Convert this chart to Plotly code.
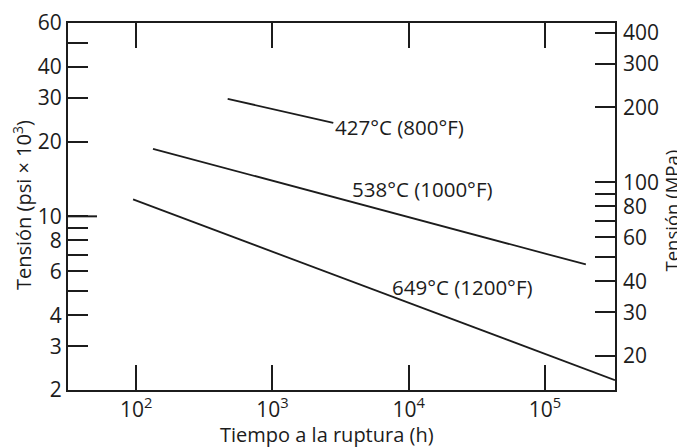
import numpy as np
import plotly.graph_objects as go

# Data
t427 = [470, 2800]
s427 = [29.7, 23.8]
t538 = [133, 2.0e5]
s538 = [18.7, 6.4]
t649 = [95, 3.27e5]
s649 = [11.7, 2.19]

labels = ["427°C (800°F)", "538°C (1000°F)", "649°C (1200°F)"]
label_t = [2800, 3715, 7310]
label_s = [22.9, 12.9, 5.2]

x_tickvals = [1e2, 1e3, 1e4, 1e5]
x_ticktext = ["10<sup>2</sup>", "10<sup>3</sup>", "10<sup>4</sup>", "10<sup>5</sup>"]
y_tickvals = [2, 3, 4, 5, 6, 7, 8, 9, 10, 20, 30, 40, 50, 60]
y_ticktext = ["2", "3", "4", "", "6", "", "8", "", "10", "20", "30", "40", "", "60"]
y2_tickvals = [20, 30, 40, 50, 60, 70, 80, 90, 100, 200, 300, 400]
y2_ticktext = ["20", "30", "40", "", "60", "", "80", "", "100", "200", "300", "400"]

INK = "#1c1c1c"
FONT = "Open Sans"

fig = go.Figure()
line_style = dict(color=INK, width=1.8)
for t, s in [(t427, s427), (t538, s538), (t649, s649)]:
    fig.add_trace(go.Scatter(x=t, y=s, mode="lines", line=line_style,
                             showlegend=False, hoverinfo="skip"))
# invisible trace to activate the right axis
fig.add_trace(go.Scatter(x=[1e3], y=[100], yaxis="y2", mode="markers",
                         marker=dict(opacity=0), showlegend=False, hoverinfo="skip"))

for txt, tx, sy in zip(labels, label_t, label_s):
    fig.add_annotation(x=np.log10(tx), y=np.log10(sy), text=txt, showarrow=False,
                       xanchor="left", yanchor="middle",
                       font=dict(family=FONT, size=20.5, color=INK))

# axis titles
fig.add_annotation(xref="paper", yref="paper", x=-0.084, y=0.504,
                   xanchor="center", yanchor="middle",
                   text="Tensión (psi × 10<sup>3</sup>)", textangle=-90, showarrow=False,
                   font=dict(family=FONT, size=20, color=INK))
fig.add_annotation(xref="paper", yref="paper", x=1.103, y=0.49,
                   xanchor="center", yanchor="middle",
                   text="Tensión (MPa)", textangle=-90, showarrow=False,
                   font=dict(family=FONT, size=18.5, color=INK))
fig.add_annotation(xref="paper", yref="paper", x=0.4735, y=-0.12,
                   xanchor="center", yanchor="middle",
                   text="Tiempo a la ruptura (h)", showarrow=False,
                   font=dict(family=FONT, size=20, color=INK))

# longer tick at 10
fig.add_shape(type="line", xref="x domain", yref="y", x0=0, x1=29/547,
              y0=10, y1=10, line=dict(color=INK, width=2))

# page body adds an 8px offset; figure size trimmed so the plot sits where the reference has it
fig.update_layout(
    width=677, height=439,
    margin=dict(l=60, r=70, t=15, b=57),
    paper_bgcolor="white", plot_bgcolor="white",
    font=dict(family=FONT, size=21, color=INK),
    xaxis=dict(type="log", range=[1.5, 5.515], tickvals=x_tickvals, ticktext=x_ticktext,
               ticks="inside", ticklen=25, tickwidth=2, tickcolor=INK,
               showline=True, linecolor=INK, linewidth=2, mirror="ticks",
               showgrid=False, zeroline=False, automargin=False),
    yaxis=dict(type="log", range=[np.log10(2), np.log10(60)], tickvals=y_tickvals,
               ticktext=y_ticktext, ticks="inside", ticklen=20, tickwidth=2, tickcolor=INK,
               showline=True, linecolor=INK, linewidth=2, mirror=True,
               showgrid=False, zeroline=False, automargin=False),
    yaxis2=dict(type="log", overlaying="y", side="right",
                range=[np.log10(14.6), np.log10(437)], tickvals=y2_tickvals,
                ticktext=y2_ticktext, ticks="inside", ticklen=20, tickwidth=2, tickcolor=INK,
                ticklabelstandoff=7,
                showline=False, showgrid=False, zeroline=False, automargin=False),
)

fig.write_html("out.html")
